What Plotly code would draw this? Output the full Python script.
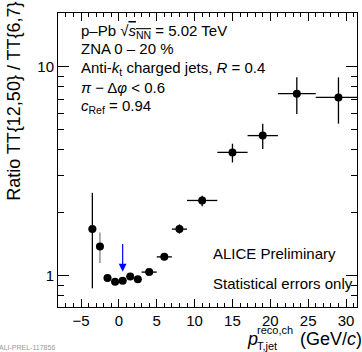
import plotly.graph_objects as go
import math

# ---- data ----
x_vals = [-3.5, -2.5, -1.5, -0.5, 0.5, 1.5, 2.5, 4, 6, 8, 11, 15, 19, 23.5, 29]
x_err = [0.5, 0.5, 0.5, 0.5, 0.5, 0.5, 0.5, 1, 1, 1, 2, 2, 2, 2.5, 3]
y_vals = [1.67, 1.38, 0.975, 0.936, 0.946, 0.99, 0.96, 1.04, 1.23, 1.67, 2.29, 3.89, 4.68, 7.43, 7.13]
y_err_plus = [0.82, 0.23, 0.015, 0.015, 0.015, 0.015, 0.015, 0.02, 0.04, 0.09, 0.12, 0.39, 0.66, 1.46, 1.76]
y_err_minus = [0.80, 0.23, 0.015, 0.015, 0.015, 0.015, 0.015, 0.02, 0.04, 0.08, 0.14, 0.41, 0.64, 1.49, 1.79]
gray_idx = [1]  # point drawn with gray error bars

arrow_x = 0.5
arrow_y_start = 1.44
arrow_y_tip = 1.045

x_ticks = [-5, 0, 5, 10, 15, 20, 25, 30]
y_ticks = [1, 10]
y_minor = [0.8, 0.9, 2, 3, 4, 5, 6, 7, 8, 9]

FONT = "Liberation Sans, Arial, Helvetica, sans-serif"

fig = go.Figure()

black_idx = [i for i in range(len(x_vals)) if i not in gray_idx]
for idx, col in ((black_idx, "black"), (gray_idx, "#808080")):
    fig.add_trace(go.Scatter(
        x=[x_vals[i] for i in idx],
        y=[y_vals[i] for i in idx],
        mode="markers",
        marker=dict(color="black", size=8, symbol="circle"),
        error_x=dict(type="data", array=[x_err[i] for i in idx], color=col, thickness=1.3, width=0),
        error_y=dict(type="data", symmetric=False,
                     array=[y_err_plus[i] for i in idx],
                     arrayminus=[y_err_minus[i] for i in idx],
                     color=col, thickness=1.3, width=0),
        showlegend=False,
    ))

def px2paper(px, py):
    return (px - 58) / 298.0, (307 - py) / 294.0

annotations = []

def txt(text, px, py, size=15, xanchor="left", yanchor="middle", color="black", angle=0):
    x, y = px2paper(px, py)
    annotations.append(dict(text=text, x=x, y=y, xref="paper", yref="paper",
                            xanchor=xanchor, yanchor=yanchor, showarrow=False,
                            textangle=angle, borderpad=0,
                            font=dict(family=FONT, size=size, color=color)))

txt("p–Pb √<span style='text-decoration:overline'><i>s</i><sub>NN</sub></span> = 5.02 TeV", 80, 32)
txt("ZNA 0 – 20 %", 80, 48)
txt("Anti-<i>k</i><sub>t</sub> charged jets, <i>R</i> = 0.4", 80, 68)
txt("<i>π</i> − Δ<i>φ</i> &lt; 0.6", 80, 88)
txt("<i>c</i><sub>Ref</sub> = 0.94", 80, 106)
txt("ALICE Preliminary", 211, 253)
txt("Statistical errors only", 211, 283)

# x title pieces
txt("<i>p</i>", 252, 339, size=18, xanchor="center")
txt("reco,ch", 255, 330, size=11)
txt("T,jet", 255, 346, size=11)
txt("(GeV/<i>c</i>)", 298, 339, size=18)

# y title
txt("Ratio TT{12,50} / TT{6,7}", 14, 101, size=18, xanchor="center", angle=-90)

# watermark
txt("ALI-PREL-117856", -2, 347, size=7, color="#9a9a9a")

# blue arrow
annotations.append(dict(x=arrow_x, y=math.log10(arrow_y_tip), ax=arrow_x, ay=math.log10(arrow_y_start),
                        xref="x", yref="y", axref="x", ayref="y", text="", showarrow=True,
                        arrowhead=2, arrowsize=1.3, arrowwidth=1.2, arrowcolor="#0000ff"))

axis_common = dict(showline=True, linecolor="black", linewidth=1, mirror="ticks",
                   ticks="inside", tickcolor="black", tickwidth=1, showgrid=False,
                   zeroline=False, tickfont=dict(family=FONT, size=15, color="black"))

fig.update_layout(
    width=362, height=352,
    margin=dict(l=58, r=5, t=13, b=45),
    paper_bgcolor="white", plot_bgcolor="white",
    xaxis=dict(range=[-8.04, 31.45], tickvals=x_ticks, ticklen=8,
               minor=dict(dtick=1, tick0=0, ticks="inside", ticklen=4, tickcolor="black", showgrid=False),
               **axis_common),
    yaxis=dict(type="log", range=[math.log10(0.708), math.log10(18.07)], tickvals=y_ticks,
               ticktext=[str(v) for v in y_ticks], ticklen=11,
               minor=dict(tickvals=y_minor, ticks="inside", ticklen=6, tickcolor="black", showgrid=False),
               **axis_common),
    annotations=annotations,
)

fig.write_html("out.html")
